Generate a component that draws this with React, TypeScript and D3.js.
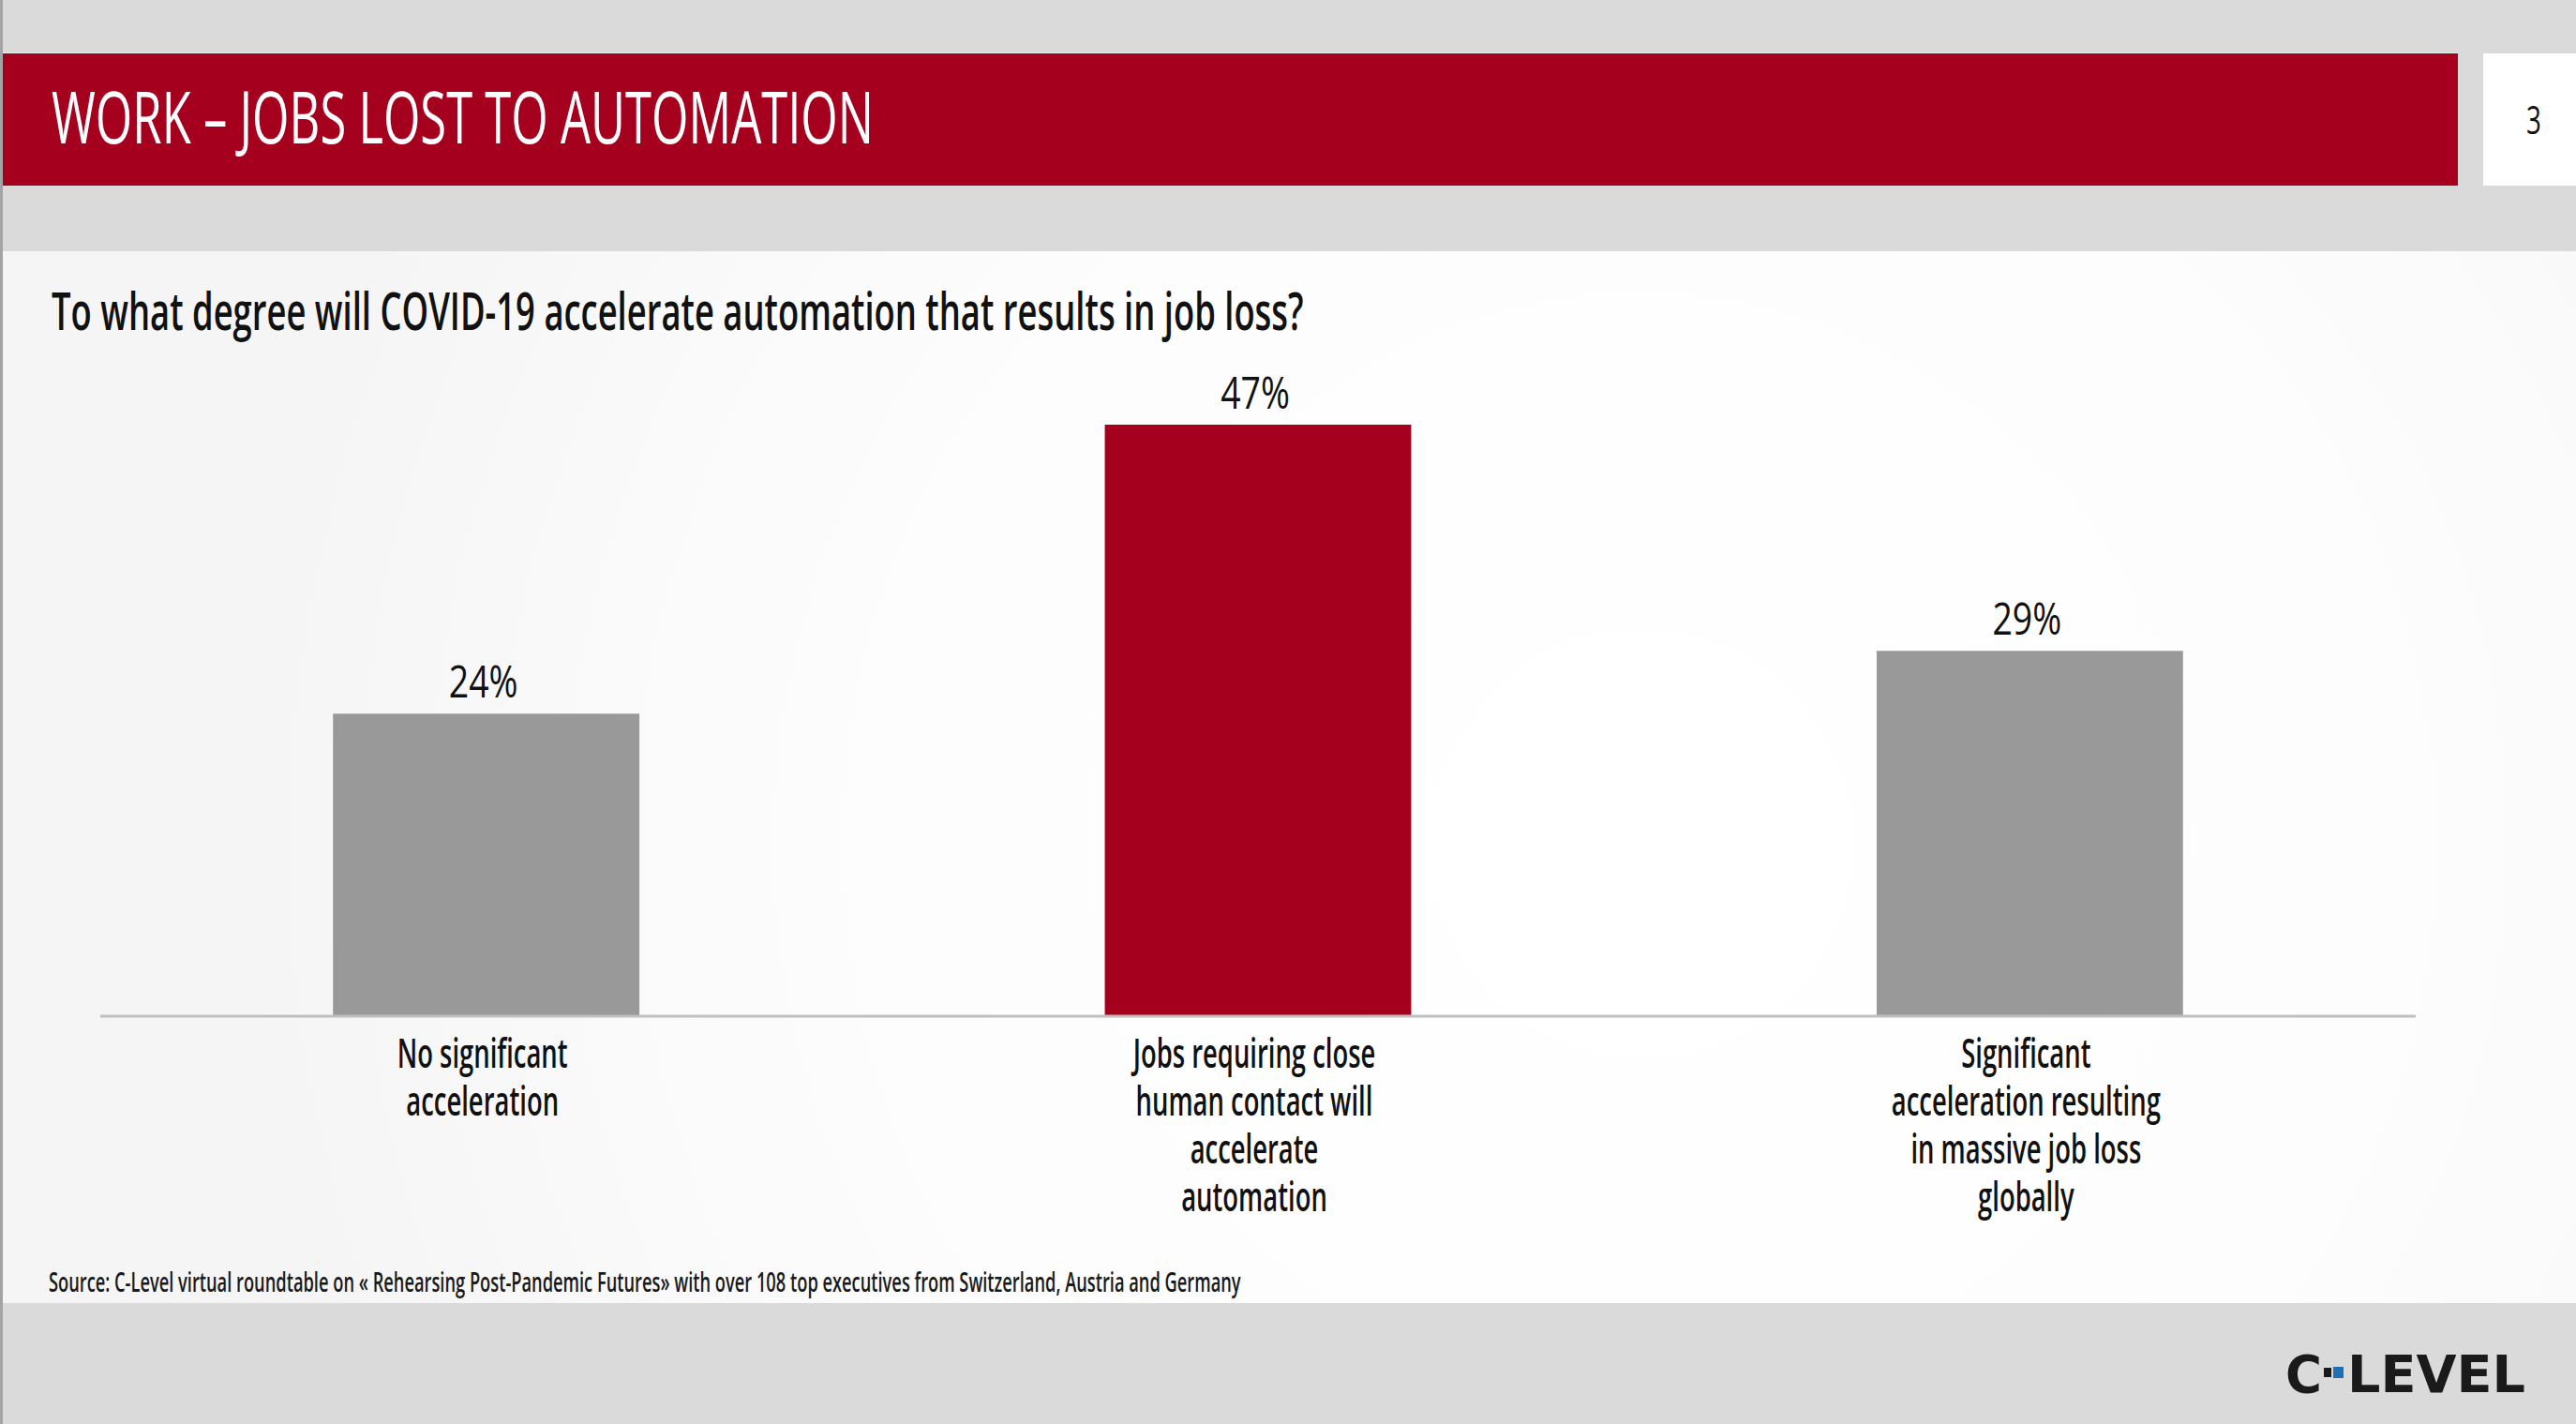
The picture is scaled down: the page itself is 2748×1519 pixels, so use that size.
import { useEffect, useRef } from 'react';
import * as d3 from 'd3';

const categoryLines: string[][] = [
  ['No significant', 'acceleration'],
  ['Jobs requiring close', 'human contact will', 'accelerate', 'automation'],
  ['Significant', 'acceleration resulting', 'in massive job loss', 'globally'],
];
const categories = categoryLines.map((l) => l.join(' '));
const values = [24, 47, 29];
const highlighted = categories[1];

const titleText = 'WORK – JOBS LOST TO AUTOMATION';
const questionText = 'To what degree will COVID-19 accelerate automation that results in job loss?';
const sourceText =
  'Source: C-Level virtual roundtable on « Rehearsing Post-Pandemic Futures» with over 108 top executives from Switzerland, Austria and Germany';
const pageNumber = '3';

const W = 2748;
const H = 1519;
const RED = '#a6001f';
const GRAY = '#999999';
const FONT = "'Open Sans', 'Noto Sans', sans-serif";

export default function App() {
  const svgRef = useRef<SVGSVGElement>(null);

  useEffect(() => {
    document.body.style.margin = '0';
    if (!svgRef.current) return;
    const svg = d3.select(svgRef.current);
    svg.selectAll('*').remove();
    svg.attr('width', W).attr('height', H);

    const defs = svg.append('defs');
    const rg = defs
      .append('radialGradient')
      .attr('id', 'glow')
      .attr('gradientUnits', 'userSpaceOnUse')
      .attr('cx', 1750)
      .attr('cy', 900)
      .attr('r', 1500);
    rg.append('stop').attr('offset', 0).attr('stop-color', '#ffffff');
    rg.append('stop').attr('offset', 0.55).attr('stop-color', '#fdfdfd');
    rg.append('stop').attr('offset', 1).attr('stop-color', '#f5f5f5');

    // page background
    svg.append('rect').attr('width', W).attr('height', H).attr('fill', '#dadada');
    svg.append('rect').attr('x', 0).attr('y', 268).attr('width', W).attr('height', 1122).attr('fill', 'url(#glow)');
    svg.append('rect').attr('x', 0).attr('y', 0).attr('width', 3).attr('height', H).attr('fill', '#a4a4a4');

    // header
    svg.append('rect').attr('x', 3).attr('y', 56).attr('width', 2619).attr('height', 2).attr('fill', '#e6ecec');
    svg.append('rect').attr('x', 3).attr('y', 57).attr('width', 2619).attr('height', 141).attr('fill', RED);
    svg.append('rect').attr('x', 2649).attr('y', 57).attr('width', W - 2649).attr('height', 141).attr('fill', '#ffffff');

    // text squeezed horizontally to mimic a condensed face
    const addText = (
      x: number,
      y: number,
      text: string,
      size: number,
      anchor: string,
      k: number,
      fill = '#111111',
      weight = 600
    ) =>
      svg
        .append('text')
        .attr('transform', `translate(${x},${y}) scale(${k},1)`)
        .attr('text-anchor', anchor)
        .attr('font-family', FONT)
        .attr('font-size', size)
        .attr('font-weight', weight)
        .attr('fill', fill)
        .text(text);

    addText(55, 153, titleText, 76, 'start', 0.668, '#ffffff', 500);
    addText(2703, 143, pageNumber, 42, 'middle', 0.66, '#111111', 500);
    addText(55, 352, questionText, 56, 'start', 0.65);
    addText(52, 1378, sourceText, 28, 'start', 0.653, '#1a1a1a');

    // chart
    const x = d3.scaleBand<string>().domain(categories).range([107, 2577]).paddingInner(0.603).paddingOuter(0.3015);
    const y = d3.scaleLinear().domain([0, 47]).range([1083, 453]);

    svg
      .append('g')
      .selectAll('rect')
      .data(categories)
      .join('rect')
      .attr('x', (d) => x(d)!)
      .attr('y', (d, i) => y(values[i]))
      .attr('width', x.bandwidth())
      .attr('height', (d, i) => y(0) - y(values[i]))
      .attr('fill', (d) => (d === highlighted ? RED : GRAY));

    svg
      .append('line')
      .attr('x1', x.range()[0])
      .attr('x2', x.range()[1])
      .attr('y1', y(0) + 1)
      .attr('y2', y(0) + 1)
      .attr('stroke', '#bfbfbf')
      .attr('stroke-width', 3);

    categories.forEach((c, i) => {
      const cx = x(c)! + x.bandwidth() / 2;
      addText(cx - 3, y(values[i]) - 17, `${values[i]}%`, 48, 'middle', 0.78, '#111111', 500);
      categoryLines[i].forEach((line, j) => {
        addText(cx - 4, y(0) + 56 + j * 51, line, 43, 'middle', 0.638);
      });
    });

    // logo
    const logo = svg.append('g');
    logo
      .append('text')
      .attr('x', 2438)
      .attr('y', 1485)
      .attr('font-family', "'DejaVu Sans', sans-serif")
      .attr('font-weight', 'bold')
      .attr('font-size', 56)
      .attr('textLength', 39)
      .attr('lengthAdjust', 'spacingAndGlyphs')
      .attr('fill', '#1a1a1a')
      .text('C');
    logo.append('rect').attr('x', 2479).attr('y', 1459).attr('width', 8).attr('height', 10).attr('fill', '#1a1a1a');
    logo.append('rect').attr('x', 2489).attr('y', 1458).attr('width', 11).attr('height', 12).attr('fill', '#1f6fb5');
    logo
      .append('text')
      .attr('x', 2504)
      .attr('y', 1485)
      .attr('font-family', "'DejaVu Sans', sans-serif")
      .attr('font-weight', 'bold')
      .attr('font-size', 56)
      .attr('textLength', 190)
      .attr('lengthAdjust', 'spacingAndGlyphs')
      .attr('fill', '#1a1a1a')
      .text('LEVEL');
  }, []);

  return <svg ref={svgRef} style={{ display: 'block', position: 'absolute', left: 0, top: 0 }} />;
}
